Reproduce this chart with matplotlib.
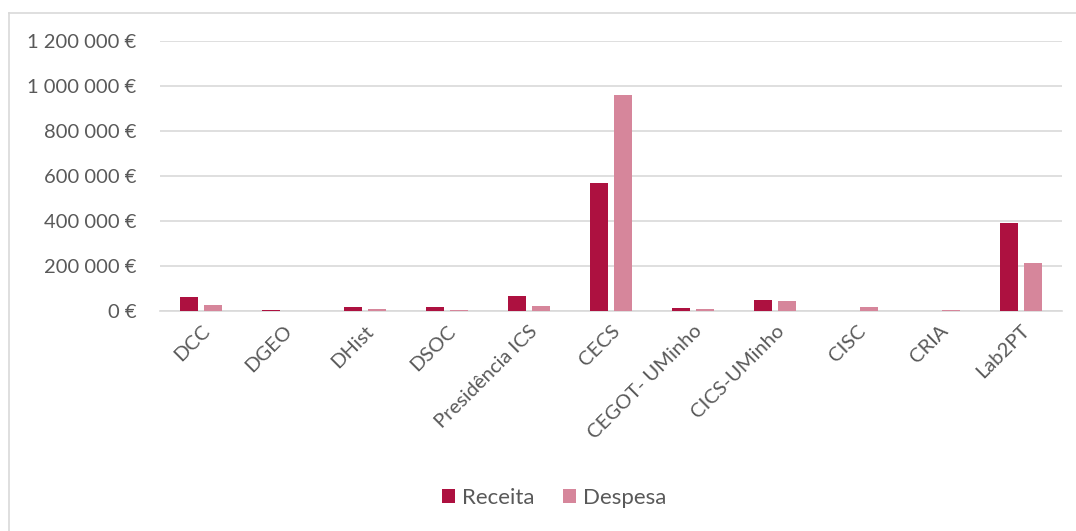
import matplotlib
matplotlib.use("Agg")
import matplotlib.pyplot as plt
import numpy as np
from matplotlib.ticker import FuncFormatter
from matplotlib.lines import Line2D

categories = ["DCC", "DGEO", "DHist", "DSOC", "Presidência ICS", "CECS",
              "CEGOT- UMinho", "CICS-UMinho", "CISC", "CRIA", "Lab2PT"]
receita = [62000, 5000, 18000, 17000, 65000, 569000, 12000, 47000, 0, 0, 391000]
despesa = [28000, 1000, 7000, 4000, 24000, 960000, 10000, 43000, 18000, 5000, 215000]
yticks = [0, 200000, 400000, 600000, 800000, 1000000, 1200000]

plt.rcParams['font.family'] = ['Lato', 'DejaVu Sans']
txt = '#595959'
W, H = 1076, 531

fig = plt.figure(figsize=(10.76, 5.31), dpi=100)
ax = fig.add_axes([160/W, 1-311/H, 902/W, 270/H])

x = np.arange(len(categories))
w = 0.22
off = 0.145
ax.bar(x - off, receita, width=w, color='#AD1140', label='Receita', zorder=3)
ax.bar(x + off, despesa, width=w, color='#D6869B', label='Despesa', zorder=3)

ax.set_xlim(-0.5, len(categories) - 0.5)
ax.set_ylim(0, 1200000)
ax.set_yticks(yticks)
ax.yaxis.set_major_formatter(FuncFormatter(lambda v, p: f"{int(v):,} €".replace(",", " ")))
ax.grid(axis='y', color='#D9D9D9', linewidth=1.2, zorder=0)
for s in ['top', 'right', 'left']:
    ax.spines[s].set_visible(False)
ax.spines['bottom'].set_color('#D9D9D9')
ax.spines['bottom'].set_linewidth(1.2)
ax.tick_params(axis='both', length=0, colors=txt, labelsize=14.5)
ax.tick_params(axis='y', pad=17)
ax.set_xticks(x)
ax.set_xticklabels(categories, rotation=45, ha='right', rotation_mode='anchor')
ax.tick_params(axis='x', pad=8)

leg = fig.legend(loc='center', bbox_to_anchor=(554/W, 1-498/H), ncol=2, frameon=False,
                 fontsize=16, handlelength=0.6, handleheight=0.6, columnspacing=1.3,
                 handletextpad=0.3)
for t in leg.get_texts():
    t.set_color(txt)

# chart border (only top and left visible in the crop)
fig.add_artist(Line2D([8.5/W, 1], [1-12.5/H, 1-12.5/H], transform=fig.transFigure,
                      color='#D9D9D9', linewidth=1.2))
fig.add_artist(Line2D([8.5/W, 8.5/W], [0, 1-12.5/H], transform=fig.transFigure,
                      color='#D9D9D9', linewidth=1.2))
fig.savefig('out.png', dpi=100)
